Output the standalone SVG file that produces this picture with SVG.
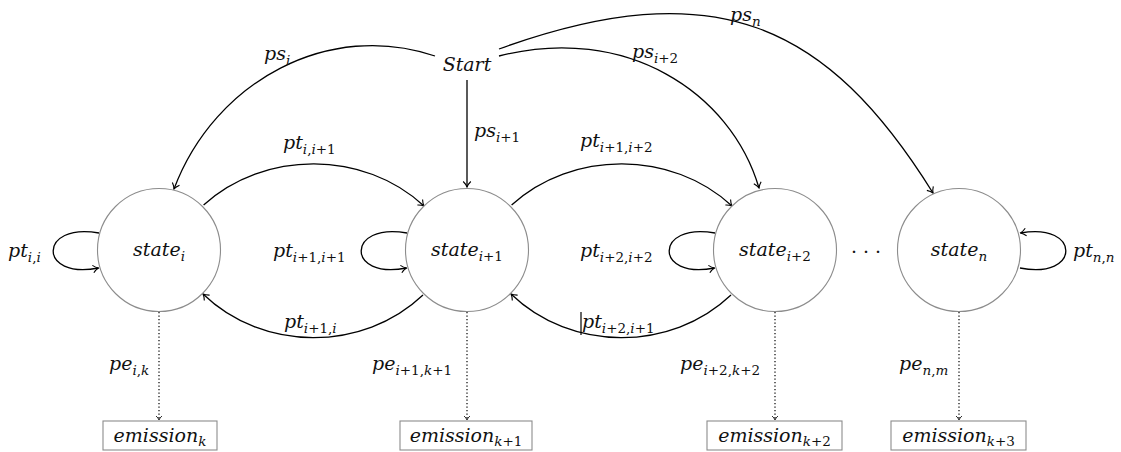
<svg xmlns="http://www.w3.org/2000/svg" width="1121" height="452" viewBox="0 0 1121 452">
  <defs>
    <style>
      text { font-family: "DejaVu Serif", "Liberation Serif", serif; font-style: italic; font-size: 19px; fill: #111; }
      .sub { font-size: 13.5px; }
      .up { font-style: normal; }
      .mid { text-anchor: middle; }
      .state { fill: #fff; stroke: #8c8c8c; stroke-width: 1.1; }
      .box { fill: #fff; stroke: #8c8c8c; stroke-width: 1.1; }
      .edge { fill: none; stroke: #000; stroke-width: 1.3; marker-end: url(#to); }
      .emit { fill: none; stroke: #000; stroke-width: 1.2; stroke-dasharray: 1.3 2.2; marker-end: url(#tos); }
    </style>
    <marker id="to" viewBox="-7 -5 8 10" refX="0" refY="0" markerWidth="8" markerHeight="10" orient="auto" markerUnits="userSpaceOnUse">
      <path d="M-5.5,-3.8 C-3.4,-1.7 -1.1,-0.4 0,0 C-1.1,0.4 -3.4,1.7 -5.5,3.8" fill="none" stroke="#000" stroke-width="1.1"/>
    </marker>
    <marker id="tos" viewBox="-6 -4 7 8" refX="0" refY="0" markerWidth="7" markerHeight="8" orient="auto" markerUnits="userSpaceOnUse">
      <path d="M-3.8,-2.8 C-2.4,-1.2 -0.8,-0.3 0,0 C-0.8,0.3 -2.4,1.2 -3.8,2.8" fill="none" stroke="#000" stroke-width="1"/>
    </marker>
  </defs>

  <rect width="1121" height="452" fill="#fff"/>

  <!-- connectors -->
  <g id="connectors">
    <!-- start probabilities -->
    <path class="edge" d="M435,56 C330,20 215,80 174,189"/>
    <path class="edge" d="M467,80 L467,187"/>
    <path class="edge" d="M499,56 C625,23.5 731,92 759,188"/>
    <path class="edge" d="M499,49 C715,-29 827,23 933,193"/>
    <!-- forward transitions -->
    <path class="edge" d="M203.6,205 C264,150 364,150 424,206"/>
    <path class="edge" d="M511.6,205 C572,150 672,150 732,206"/>
    <!-- backward transitions -->
    <path class="edge" d="M423,295 C363,352 263,352 203,294"/>
    <path class="edge" d="M731,295 C671,352 571,352 511,294"/>
    <!-- self loops -->
    <path class="edge" d="M99,233 C38,222 38,280 98.5,268"/>
    <path class="edge" d="M407,233 C346,222 346,280 406.5,268"/>
    <path class="edge" d="M715,233 C654,222 654,280 714.5,268"/>
    <path class="edge" d="M1020,268 C1081,280 1081,222 1020.5,233"/>
    <!-- emissions -->
    <path class="emit" d="M159,312 L159,420"/>
    <path class="emit" d="M467,312 L467,420"/>
    <path class="emit" d="M775,312 L775,420"/>
    <path class="emit" d="M959,312 L959,420"/>
    <!-- edge labels -->
    <text x="264" y="60">ps<tspan class="sub" dy="4.5">i</tspan></text>
    <text x="474" y="137">ps<tspan class="sub" dy="4.5">i<tspan class="up">+1</tspan></tspan></text>
    <text x="632" y="58">ps<tspan class="sub" dy="4.5">i<tspan class="up">+2</tspan></tspan></text>
    <text x="730" y="21">ps<tspan class="sub" dy="4.5">n</tspan></text>
    <text x="283" y="149">pt<tspan class="sub" dy="4.5">i<tspan class="up">,</tspan>i<tspan class="up">+1</tspan></tspan></text>
    <text x="580" y="147">pt<tspan class="sub" dy="4.5">i<tspan class="up">+1,</tspan>i<tspan class="up">+2</tspan></tspan></text>
    <text x="284" y="328">pt<tspan class="sub" dy="4.5">i<tspan class="up">+1,</tspan>i</tspan></text>
    <text x="582" y="328">pt<tspan class="sub" dy="4.5">i<tspan class="up">+2,</tspan>i<tspan class="up">+1</tspan></tspan></text>
    <line x1="581" y1="312" x2="581" y2="335" stroke="#000" stroke-width="1.2"/>
    <text x="8" y="257">pt<tspan class="sub" dy="4.5">i<tspan class="up">,</tspan>i</tspan></text>
    <text x="273" y="257">pt<tspan class="sub" dy="4.5">i<tspan class="up">+1,</tspan>i<tspan class="up">+1</tspan></tspan></text>
    <text x="580" y="257">pt<tspan class="sub" dy="4.5">i<tspan class="up">+2,</tspan>i<tspan class="up">+2</tspan></tspan></text>
    <text x="1073" y="257">pt<tspan class="sub" dy="4.5">n<tspan class="up">,</tspan>n</tspan></text>
    <text x="109" y="370">pe<tspan class="sub" dy="4.5">i<tspan class="up">,</tspan>k</tspan></text>
    <text x="372" y="370">pe<tspan class="sub" dy="4.5">i<tspan class="up">+1,</tspan>k<tspan class="up">+1</tspan></tspan></text>
    <text x="680" y="370">pe<tspan class="sub" dy="4.5">i<tspan class="up">+2,</tspan>k<tspan class="up">+2</tspan></tspan></text>
    <text x="899" y="370">pe<tspan class="sub" dy="4.5">n<tspan class="up">,</tspan>m</tspan></text>
  </g>

  <!-- start node -->
  <g id="start">
    <text class="mid" x="467" y="71">Start</text>
  </g>

  <!-- hidden states -->
  <g id="state_i">
    <circle class="state" cx="159" cy="250" r="61.5"/>
    <text class="mid" x="159" y="256">state<tspan class="sub" dy="4.5">i</tspan></text>
  </g>
  <g id="state_i1">
    <circle class="state" cx="467" cy="250" r="61.5"/>
    <text class="mid" x="467" y="256">state<tspan class="sub" dy="4.5">i<tspan class="up">+1</tspan></tspan></text>
  </g>
  <g id="state_i2">
    <circle class="state" cx="775" cy="250" r="61.5"/>
    <text class="mid" x="775" y="256">state<tspan class="sub" dy="4.5">i<tspan class="up">+2</tspan></tspan></text>
  </g>
  <g id="ellipsis">
    <text class="mid up" x="866" y="258">· · ·</text>
  </g>
  <g id="state_n">
    <circle class="state" cx="959" cy="250" r="61.5"/>
    <text class="mid" x="959" y="256">state<tspan class="sub" dy="4.5">n</tspan></text>
  </g>

  <!-- emissions -->
  <g id="emission_k">
    <rect class="box" x="103" y="421" width="114" height="29"/>
    <text class="mid" x="160" y="442">emission<tspan class="sub" dy="4">k</tspan></text>
  </g>
  <g id="emission_k1">
    <rect class="box" x="400" y="421" width="132" height="29"/>
    <text class="mid" x="466" y="442">emission<tspan class="sub" dy="4">k<tspan class="up">+1</tspan></tspan></text>
  </g>
  <g id="emission_k2">
    <rect class="box" x="707" y="421" width="135" height="29"/>
    <text class="mid" x="774.5" y="442">emission<tspan class="sub" dy="4">k<tspan class="up">+2</tspan></tspan></text>
  </g>
  <g id="emission_k3">
    <rect class="box" x="891" y="421" width="135" height="29"/>
    <text class="mid" x="958.5" y="442">emission<tspan class="sub" dy="4">k<tspan class="up">+3</tspan></tspan></text>
  </g>
</svg>
